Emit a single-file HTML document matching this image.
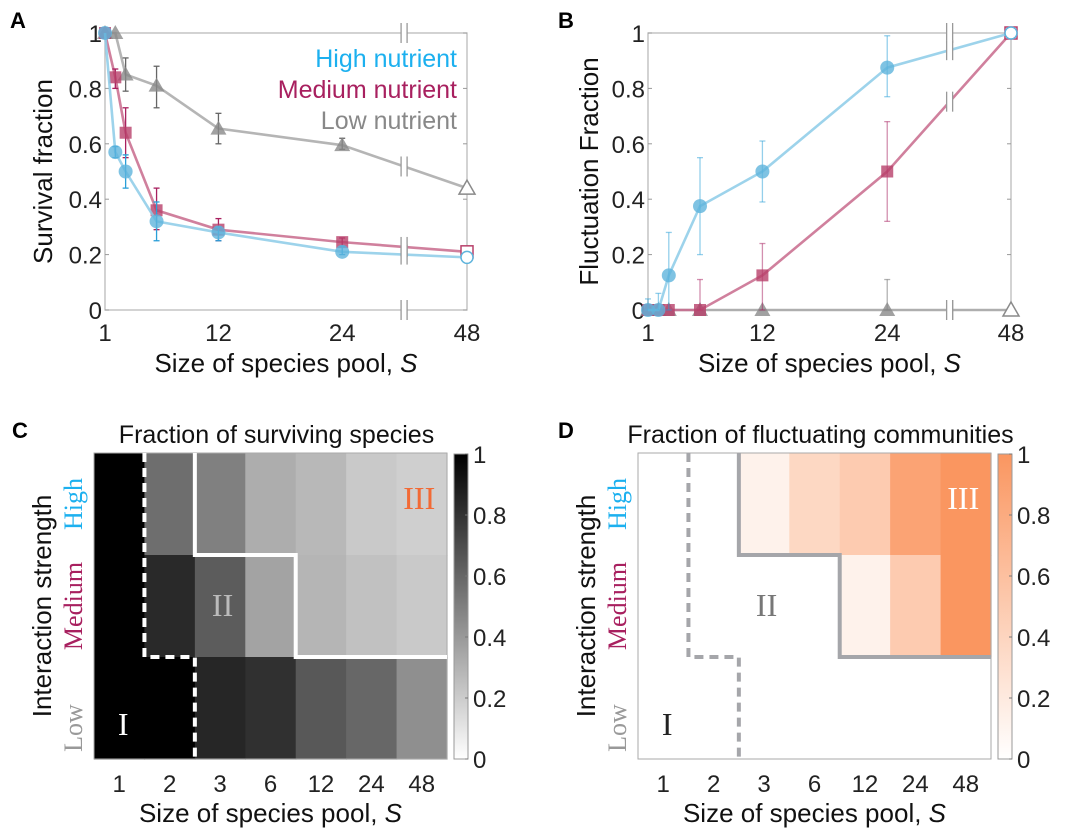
<!DOCTYPE html>
<html><head><meta charset="utf-8">
<style>
html,body{margin:0;padding:0;background:#fff;}
svg{display:block;font-family:"Liberation Sans",sans-serif;}
</style></head>
<body>
<svg id="fig" width="1080" height="832" viewBox="0 0 1080 832" xmlns="http://www.w3.org/2000/svg">
<g id="gA"></g>
<g id="gB"></g>
<g id="gC"></g>
<g id="gD"></g>
</svg>
<script>
// ---------- data ----------
const poolSizes = [1, 2, 3, 6, 12, 24, 48];
const survHigh = [1, 0.57, 0.50, 0.32, 0.28, 0.21, 0.19];
const survHighLo = [1, 0.55, 0.44, 0.25, 0.25, 0.20, 0.19];
const survHighHi = [1, 0.59, 0.56, 0.39, 0.30, 0.23, 0.19];
const survMed = [1, 0.84, 0.64, 0.36, 0.29, 0.245, 0.21];
const survMedLo = [1, 0.80, 0.55, 0.29, 0.25, 0.23, 0.21];
const survMedHi = [1, 0.87, 0.73, 0.44, 0.33, 0.26, 0.21];
const survLow = [1, 1, 0.85, 0.81, 0.655, 0.595, 0.44];
const survLowLo = [1, 1, 0.79, 0.73, 0.60, 0.58, 0.44];
const survLowHi = [1, 1, 0.91, 0.88, 0.71, 0.62, 0.44];

const flucHigh = [0, 0, 0.125, 0.375, 0.5, 0.875, 1];
const flucHighLo = [0, 0, 0, 0.2, 0.39, 0.77, 1];
const flucHighHi = [0.04, 0.06, 0.28, 0.55, 0.61, 0.99, 1];
const flucMed = [0, 0, 0, 0, 0.125, 0.5, 1];
const flucMedLo = [0, 0, 0, 0, 0, 0.32, 1];
const flucMedHi = [0, 0, 0, 0.11, 0.24, 0.68, 1];
const flucLow = [0, 0, 0, 0, 0, 0, 0];
const flucLowLo = [0, 0, 0, 0, 0, 0, 0];
const flucLowHi = [0, 0, 0, 0, 0, 0.11, 0];

const yTicks = [0, 0.2, 0.4, 0.6, 0.8, 1];
const yTickLabels = ["0", "0.2", "0.4", "0.6", "0.8", "1"];
const xTickVals = [1, 12, 24, 48];
const heatCols = ["1", "2", "3", "6", "12", "24", "48"];
const heatRows = ["High", "Medium", "Low"];
const heatSurvHigh = [1, 0.57, 0.50, 0.32, 0.28, 0.21, 0.19];
const heatSurvMed = [1, 0.84, 0.64, 0.36, 0.29, 0.245, 0.21];
const heatSurvLow = [1, 1, 0.85, 0.81, 0.655, 0.595, 0.44];
const heatFlucHigh = [0, 0, 0.125, 0.375, 0.5, 0.875, 1];
const heatFlucMed = [0, 0, 0, 0, 0.125, 0.5, 1];
const heatFlucLow = [0, 0, 0, 0, 0, 0, 0];

const NS = "http://www.w3.org/2000/svg";
function mk(parent, tag, attrs, text) {
  const e = document.createElementNS(NS, tag);
  for (const k in attrs) e.setAttribute(k, attrs[k]);
  if (text !== undefined) e.textContent = text;
  parent.appendChild(e);
  return e;
}

function linePanel(g, L, R, T, B, pos48, series, ytitle, ytitleX, label, labelX) {
  const unit = (R - L) / (pos48 - 1);
  const breakPos = 30;
  const xs = s => L + ((s <= 24 ? s : pos48) - 1) * unit;
  const ys = v => B - v * (B - T);
  let e;
  e = mk(g, "rect", {x: L, y: T, width: R - L, height: B - T, fill: "none", stroke: "#bbb", "stroke-width": 1.3});
  
  
  yTicks.forEach((v, i) => {
    mk(g, "line", {x1: L, x2: L + 4, y1: ys(v), y2: ys(v), stroke: "#999"});
    mk(g, "line", {x1: R, x2: R - 4, y1: ys(v), y2: ys(v), stroke: "#999"});
    e = mk(g, "text", {x: L - 3, y: ys(v) + 9, "text-anchor": "end", "font-size": 24, fill: "#222"}, yTickLabels[i]);
    
    
  });
  xTickVals.forEach(s => {
    e = mk(g, "text", {x: xs(s), y: B + 31, "text-anchor": "middle", "font-size": 24, fill: "#222"}, String(s));
    
    
  });
  series.forEach(sr => {
    const pts = poolSizes.map((s, i) => xs(s) + "," + ys(sr.v[i])).join(" ");
    e = mk(g, "polyline", {points: pts, fill: "none", stroke: sr.line, "stroke-width": 2.6, "stroke-opacity": 0.85});
    
    
    poolSizes.forEach((s, i) => {
      const x = xs(s);
      if (sr.hi[i] - sr.lo[i] > 0.005) {
        mk(g, "line", {x1: x, x2: x, y1: ys(sr.lo[i]), y2: ys(sr.hi[i]), stroke: sr.err, "stroke-width": 1.3, "stroke-opacity": sr.eo});
        mk(g, "line", {x1: x - 3, x2: x + 3, y1: ys(sr.lo[i]), y2: ys(sr.lo[i]), stroke: sr.err, "stroke-width": 1.3, "stroke-opacity": sr.eo});
        mk(g, "line", {x1: x - 3, x2: x + 3, y1: ys(sr.hi[i]), y2: ys(sr.hi[i]), stroke: sr.err, "stroke-width": 1.3, "stroke-opacity": sr.eo});
      }
      const open = s === 48;
      const y = ys(sr.v[i]);
      const st = open ? {fill: "#fff", stroke: sr.mk, "stroke-width": 1.5} : {fill: sr.mk, "fill-opacity": 0.8};
      if (sr.shape === "c") e = mk(g, "circle", Object.assign({cx: x, cy: y, r: open ? 6 : 7}, st));
      else if (sr.shape === "s") e = mk(g, "rect", Object.assign({x: x - 6, y: y - 6, width: 12, height: 12}, st));
      else e = mk(g, "polygon", Object.assign({points: `${x},${y - 8} ${x - 8},${y + 6} ${x + 8},${y + 6}`}, st));
      
      
    });
  });
  const bx = L + (breakPos - 1) * unit;
  const brk = [T, B];
  series.forEach(sr => {
    const t = (breakPos - 24) / (pos48 - 24);
    brk.push(ys(sr.v[5] + (sr.v[6] - sr.v[5]) * t));
  });
  brk.forEach(y => {
    mk(g, "rect", {x: bx - 3, y: y - 10, width: 6, height: 20, fill: "#fff"});
    mk(g, "line", {x1: bx - 3, x2: bx - 3, y1: y - 10, y2: y + 10, stroke: "#999", "stroke-width": 1.3});
    mk(g, "line", {x1: bx + 3, x2: bx + 3, y1: y - 10, y2: y + 10, stroke: "#999", "stroke-width": 1.3});
  });
  e = mk(g, "text", {x: (L + R) / 2, y: B + 62, "text-anchor": "middle", "font-size": 26, fill: "#111"});
  e.innerHTML = 'Size of species pool, <tspan font-style="italic">S</tspan>';
  
  
  e = mk(g, "text", {x: ytitleX, y: (T + B) / 2, "text-anchor": "middle", "font-size": 26, fill: "#111", transform: `rotate(-90 ${ytitleX} ${(T + B) / 2})`}, ytitle);
  
  
  e = mk(g, "text", {x: labelX, y: 28, "font-size": 22, "font-weight": "bold", fill: "#000"}, label);
  
  
}

const sty = {
  high: {line: "#8ccbe8", mk: "#5fb4dc", err: "#2a9fd8"},
  med: {line: "#c86a8c", mk: "#b8406a", err: "#a8205f"},
  low: {line: "#a8a8a8", mk: "#8a8a8a", err: "#666"}
};

linePanel(document.getElementById("gA"), 105, 467, 33, 310, 36.1, [
  Object.assign({name: "low-nutrient", v: survLow, lo: survLowLo, hi: survLowHi, shape: "t", eo: 1}, sty.low),
  Object.assign({name: "medium-nutrient", v: survMed, lo: survMedLo, hi: survMedHi, shape: "s", eo: 1}, sty.med),
  Object.assign({name: "high-nutrient", v: survHigh, lo: survHighLo, hi: survHighHi, shape: "c", eo: 1}, sty.high)
], "Survival fraction", 52, "A", 10);

linePanel(document.getElementById("gB"), 648, 1011, 33, 310, 35.9, [
  Object.assign({name: "low-nutrient", v: flucLow, lo: flucLowLo, hi: flucLowHi, shape: "t", eo: 0.5}, sty.low),
  Object.assign({name: "medium-nutrient", v: flucMed, lo: flucMedLo, hi: flucMedHi, shape: "s", eo: 0.5}, sty.med),
  Object.assign({name: "high-nutrient", v: flucHigh, lo: flucHighLo, hi: flucHighHi, shape: "c", eo: 0.5}, sty.high)
], "Fluctuation Fraction", 598, "B", 558);

(function () {
  const g = document.getElementById("gA");
  const items = [["High nutrient", "#1cb0ef", 67], ["Medium nutrient", "#a8205f", 98], ["Low nutrient", "#888", 129]];
  items.forEach(it => {
    const e = mk(g, "text", {x: 457, y: it[2], "text-anchor": "end", "font-size": 25, fill: it[1]}, it[0]);
    
    
  });
})();

function heatPanel(g, L, R, T, B, rows, colorFn, lineCol, title, label, labelX, cbX, roman3Col) {
  const cw = (R - L) / 7, rh = (B - T) / 3;
  let e;
  rows.forEach((row, r) => row.forEach((v, c) => {
    e = mk(g, "rect", {x: L + c * cw, y: T + r * rh, width: cw + 0.6, height: rh + 0.6, fill: colorFn(v)});
    
    
  }));
  mk(g, "rect", {x: L, y: T, width: R - L, height: B - T, fill: "none", stroke: "#aaa", "stroke-width": 1});
  const x1 = L + cw, x2 = L + 2 * cw, x4 = L + 4 * cw, y1 = T + rh, y2 = T + 2 * rh;
  e = mk(g, "polyline", {points: `${x1},${T} ${x1},${y2} ${x2},${y2} ${x2},${B}`, fill: "none", stroke: lineCol, "stroke-width": 4, "stroke-dasharray": "9,6"});
  
  
  e = mk(g, "polyline", {points: `${x2},${T} ${x2},${y1} ${x4},${y1} ${x4},${y2} ${R},${y2}`, fill: "none", stroke: lineCol, "stroke-width": 4});
  
  
  heatCols.forEach((c, i) => {
    e = mk(g, "text", {x: L + (i + 0.5) * cw, y: B + 33, "text-anchor": "middle", "font-size": 24, fill: "#222"}, c);
    
    
  });
  e = mk(g, "text", {x: (L + R) / 2, y: B + 63, "text-anchor": "middle", "font-size": 26, fill: "#111"});
  e.innerHTML = 'Size of species pool, <tspan font-style="italic">S</tspan>';
  
  
  e = mk(g, "text", {x: (L + R) / 2 + 6, y: T - 10, "text-anchor": "middle", "font-size": 25, fill: "#111"}, title);
  
  
  const ytx = L - 43;
  e = mk(g, "text", {x: ytx, y: (T + B) / 2, "text-anchor": "middle", "font-size": 26, fill: "#111", transform: `rotate(-90 ${ytx} ${(T + B) / 2})`}, "Interaction strength");
  
  
  const rc = ["#1cb0ef", "#a8205f", "#999"];
  heatRows.forEach((n, i) => {
    const cy = T + (i + 0.5) * rh + (i === 2 ? 20 : 0), cx = L - 12;
    e = mk(g, "text", {x: cx, y: cy, "text-anchor": "middle", "font-size": 26, "font-family": "Liberation Serif, serif", fill: rc[i], transform: `rotate(-90 ${cx} ${cy})`}, n);
    
    
  });
  const rom = [["I", L + 0.58 * cw, B - 24, lineCol === "#fff" ? "#fff" : "#222"], ["II", L + 2.55 * cw, T + 1.6 * rh, lineCol === "#fff" ? "#bbb" : "#777"], ["III", L + 6.45 * cw, T + 0.55 * rh, roman3Col]];
  rom.forEach(r => {
    e = mk(g, "text", {x: r[1], y: r[2], "text-anchor": "middle", "font-size": 32, "font-family": "Liberation Serif, serif", fill: r[3]}, r[0]);
    
    
  });
  const gid = "cb" + label;
  const defs = mk(g, "defs", {});
  const lg = mk(defs, "linearGradient", {id: gid, x1: 0, y1: 1, x2: 0, y2: 0});
  mk(lg, "stop", {offset: "0", "stop-color": colorFn(0)});
  mk(lg, "stop", {offset: "1", "stop-color": colorFn(1)});
  e = mk(g, "rect", {x: cbX, y: T + 1, width: 14, height: B - T - 1, fill: `url(#${gid})`, stroke: "#999", "stroke-width": 1});
  
  
  yTicks.forEach((v, i) => {
    const y = B - v * (B - T - 1);
    mk(g, "line", {x1: cbX + 14, x2: cbX + 11, y1: y, y2: y, stroke: "#777"});
    e = mk(g, "text", {x: cbX + 19, y: y + 9, "font-size": 24, fill: "#222"}, yTickLabels[i]);
    
    
  });
  e = mk(g, "text", {x: labelX, y: 438, "font-size": 22, "font-weight": "bold", fill: "#000"}, label);
  
  
}

const grayFn = v => { const c = Math.round(255 * (1 - v)); return `rgb(${c},${c},${c})`; };
const orangeFn = v => `rgb(${Math.round(255 - 5 * v)},${Math.round(255 - 105 * v)},${Math.round(255 - 159 * v)})`;

heatPanel(document.getElementById("gC"), 94, 447, 453, 759, [heatSurvHigh, heatSurvMed, heatSurvLow], grayFn, "#fff", "Fraction of surviving species", "C", 12, 454, "#f26a35");
heatPanel(document.getElementById("gD"), 638, 991, 453, 759, [heatFlucHigh, heatFlucMed, heatFlucLow], orangeFn, "#a5a6aa", "Fraction of fluctuating communities", "D", 558, 998, "#fff");
</script>
</body></html>
